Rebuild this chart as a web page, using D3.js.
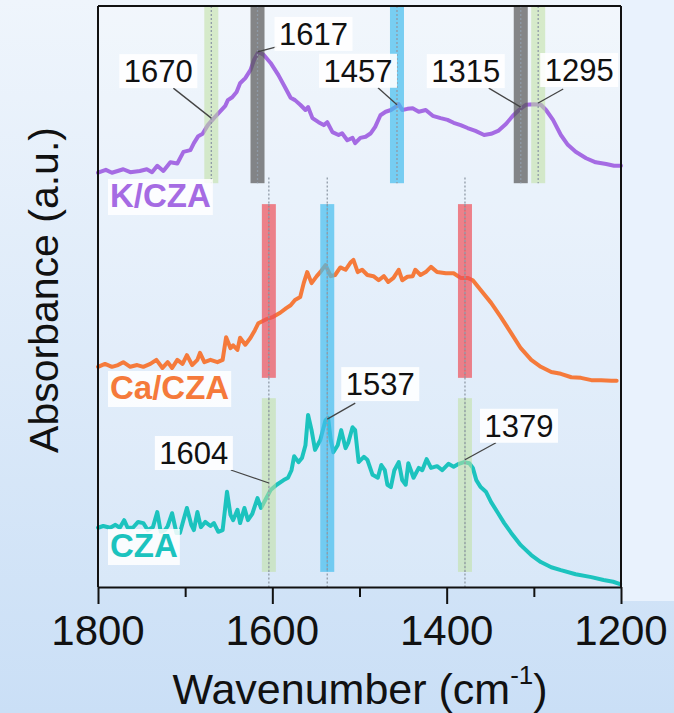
<!DOCTYPE html>
<html>
<head>
<meta charset="utf-8">
<script src="https://cdn.jsdelivr.net/npm/d3@7"></script>
<style>
  html, body { margin: 0; padding: 0; }
  body { width: 674px; height: 713px; overflow: hidden; }
  text { font-family: "Liberation Sans", Arial, Helvetica, sans-serif; }
</style>
</head>
<body>
<div id="chart"></div>
<script>
// ---- data ----
// K/CZA spectrum
const kWave = [1800,1791,1784,1771,1763,1752,1744,1738,1732,1725,1717,1709,1702,1694,1690,1685,1680,1674,1667,1654,1651,1646,1641,1637,1631,1625,1621,1616,1610,1602,1593,1585,1579,1574,1568,1562,1559,1554,1547,1541,1537,1531,1524,1520,1514,1508,1505,1499,1493,1487,1482,1476,1470,1464,1459,1455,1451,1445,1439,1432,1424,1416,1407,1399,1392,1384,1376,1367,1357,1349,1341,1332,1324,1317,1309,1300,1292,1286,1278,1269,1261,1252,1240,1229,1217,1208,1200];
const kAbs  = [71.3,71.8,71.3,71.9,71.4,71.6,71.9,71.4,72.5,71.6,73.1,72.9,74.9,75.2,76.4,77.6,78.0,79.5,80.7,82.8,83.8,84.3,85.2,86.7,87.6,89.0,90.7,92.1,91.6,90.2,88.1,85.9,84.2,83.8,83.0,82.1,82.6,80.7,80.0,79.5,80.0,78.3,77.8,78.1,76.9,77.3,76.4,77.3,77.5,78.1,79.2,81.2,81.8,82.1,82.6,83.1,82.1,82.3,82.4,81.8,82.1,81.1,80.7,80.4,79.9,79.5,79.0,78.5,77.8,78.0,78.5,79.7,81.1,82.1,83.0,83.1,83.0,82.1,80.4,77.8,76.1,74.9,73.8,73.1,72.8,72.5,72.5];

// Ca/CZA spectrum
const caWave = [1800,1792,1784,1777,1771,1763,1755,1748,1740,1733,1726,1720,1715,1709,1703,1698,1692,1686,1683,1678,1671,1663,1657,1653,1648,1645,1640,1637,1631,1625,1620,1616,1608,1599,1591,1584,1579,1574,1568,1564,1560,1555,1549,1545,1539,1533,1528,1522,1516,1510,1507,1502,1497,1491,1484,1478,1472,1467,1461,1455,1451,1445,1439,1436,1430,1424,1418,1411,1401,1392,1384,1376,1370,1361,1349,1338,1326,1315,1303,1292,1280,1269,1257,1246,1234,1223,1211,1205];
const caAbs  = [37.9,38.4,37.9,38.2,38.7,37.9,38.2,37.9,38.4,39.1,37.7,38.7,37.7,39.1,38.4,39.9,38.2,39.1,40.3,38.7,39.1,38.7,39.1,43.0,41.1,41.6,40.8,42.9,41.7,42.9,44.2,45.4,46.0,46.5,47.2,48.0,48.5,49.4,49.9,52.3,54.2,52.3,53.5,54.2,55.4,53.5,53.7,55.0,54.6,55.9,56.3,54.2,54.6,53.7,53.5,52.8,53.5,52.5,53.2,54.6,52.8,53.4,53.5,54.6,53.7,54.2,55.1,54.2,54.0,54.0,53.2,53.2,52.8,51.1,48.9,46.5,43.7,41.1,39.1,37.9,37.0,36.7,36.1,36.0,35.6,35.6,35.5,35.5];

// CZA spectrum
const czaWave = [1800,1794,1786,1780,1775,1770,1766,1760,1754,1748,1743,1737,1732,1728,1723,1720,1715,1710,1706,1702,1698,1693,1690,1686,1682,1677,1671,1667,1662,1657,1652,1648,1645,1640,1637,1632,1628,1623,1617,1613,1608,1602,1595,1587,1582,1578,1575,1570,1566,1562,1559,1555,1551,1545,1539,1536,1533,1530,1525,1521,1516,1513,1508,1505,1501,1495,1491,1485,1479,1475,1471,1468,1464,1460,1455,1451,1447,1444,1438,1432,1428,1423,1418,1411,1405,1398,1392,1386,1380,1374,1370,1366,1361,1355,1349,1341,1334,1326,1315,1303,1292,1280,1269,1252,1234,1220,1209,1201];
const czaAbs  = [10.2,10.5,10.2,10.7,10.2,11.5,10.2,10.2,11.2,11.0,9.8,10.3,12.9,9.5,9.8,10.5,12.7,9.3,9.3,11.5,13.6,10.7,9.8,12.9,10.3,11.2,10.5,11.0,9.5,9.8,16.4,12.4,11.5,13.3,11.0,13.6,11.5,12.6,15.3,13.6,15.0,16.7,17.6,18.4,18.8,20.1,22.5,21.5,22.2,24.4,29.6,27.0,23.6,25.3,28.7,29.1,25.3,23.2,24.4,27.0,23.9,24.8,27.5,27.0,21.5,22.4,21.9,19.3,18.8,21.0,20.1,17.6,17.2,20.1,21.5,18.4,17.6,21.3,18.8,20.5,20.1,22.0,20.5,20.8,20.1,21.2,20.7,21.2,21.5,21.3,20.5,18.4,17.2,16.4,14.6,12.7,11.0,9.3,7.2,5.5,4.3,3.4,2.9,2.2,1.7,1.2,0.9,0.5];

const seriesNames  = ["K/CZA", "Ca/CZA", "CZA"];
const seriesColors = ["#a56be3", "#f57a3b", "#1cc3be"];

// highlighted bands: position, kind, vertical extent (a.u.)
const bandWave = [1670, 1617, 1457, 1315, 1295, 1604, 1537, 1379, 1604, 1379];
const bandKind = ["green", "gray", "blue", "gray", "green", "red", "blue", "red", "green", "green"];
const bandTop  = [100, 100, 100, 100, 100, 65.9, 65.9, 65.9, 32.5, 32.5];
const bandBot  = [69.5, 69.5, 69.5, 69.5, 69.5, 36.0, 2.6, 36.0, 2.6, 2.6];
const guideWave = [1604, 1537, 1379];

// peak labels and the curve value they point at
const peakWave = [1670, 1617, 1457, 1315, 1295, 1537, 1604, 1379];
const peakAbs  = [80.7, 92.1, 83.0, 82.6, 83.3, 28.9, 17.9, 21.9];

const xTicks = [1800, 1700, 1600, 1500, 1400, 1300, 1200];
const xTickLabels = ["1800", "1600", "1400", "1200"];

// ---- layout ----
const W = 674, H = 713;
const margin = {top: 6, right: 53, bottom: 126, left: 98};
const width = W - margin.left - margin.right;
const height = H - margin.top - margin.bottom;

const svg = d3.select("#chart").append("svg")
    .attr("width", W)
    .attr("height", H);

const defs = svg.append("defs");
const grad = defs.append("linearGradient")
    .attr("id", "bg").attr("x1", 0).attr("y1", 0).attr("x2", 0).attr("y2", 1);
grad.append("stop").attr("offset", "0%").attr("stop-color", "#eff5fc");
grad.append("stop").attr("offset", "100%").attr("stop-color", "#cadff6");

svg.append("rect").attr("width", W).attr("height", H).attr("fill", "url(#bg)");
// lighter panel right of the frame
svg.append("rect")
    .attr("x", margin.left + width).attr("y", 0)
    .attr("width", W - margin.left - width).attr("height", margin.top + height + 14)
    .attr("fill", "#e9f2fd");

const g = svg.append("g").attr("transform", `translate(${margin.left},${margin.top})`);

g.append("rect").attr("width", width).attr("height", height)
    .attr("fill", "#ffffff").attr("opacity", 0.18);

const x = d3.scaleLinear().domain([1800, 1200]).range([0, width]);
const y = d3.scaleLinear().domain([0, 100]).range([height, 0]);

const bandFill = {green: "#bfe0a0", gray: "#555555", blue: "#45bdee", red: "#ee5058"};
const bandOpacity = {green: 0.55, gray: 0.7, blue: 0.7, red: 0.7};
const bandW = 14;

// spectra
const spectra = [
  kWave.map((w, i) => [w, kAbs[i]]),
  caWave.map((w, i) => [w, caAbs[i]]),
  czaWave.map((w, i) => [w, czaAbs[i]])
];
const line = d3.line().x(d => x(d[0])).y(d => y(d[1]));

g.selectAll(".spec")
    .data(spectra)
    .enter()
    .append("path")
    .attr("class", "spec")
    .attr("d", line)
    .attr("fill", "none")
    .attr("stroke", (d, i) => seriesColors[i])
    .attr("stroke-width", 4)
    .attr("stroke-linejoin", "round")
    .attr("stroke-linecap", "round");

// long dotted guides for the lower two spectra
g.selectAll(".guide")
    .data(guideWave)
    .enter()
    .append("line")
    .attr("x1", d => x(d)).attr("x2", d => x(d))
    .attr("y1", y(70.5)).attr("y2", height)
    .attr("stroke", "#8f9aa6")
    .attr("stroke-width", 1.3)
    .attr("stroke-dasharray", "2,2");

// bands drawn over the curves
const bands = bandWave.map((w, i) => ({w, kind: bandKind[i], top: bandTop[i], bot: bandBot[i]}));
g.selectAll(".band")
    .data(bands)
    .enter()
    .append("rect")
    .attr("x", d => x(d.w) - bandW / 2)
    .attr("y", d => y(d.top))
    .attr("width", bandW)
    .attr("height", d => y(d.bot) - y(d.top))
    .attr("fill", d => bandFill[d.kind])
    .attr("opacity", d => bandOpacity[d.kind]);

g.selectAll(".bandDot")
    .data(bands)
    .enter()
    .append("line")
    .attr("x1", d => x(d.w)).attr("x2", d => x(d.w))
    .attr("y1", d => y(d.top)).attr("y2", d => y(d.bot))
    .attr("stroke", "#8f9aa6")
    .attr("stroke-width", 1.3)
    .attr("stroke-dasharray", "2,2");

// frame and x axis
g.append("line").attr("x1", 0).attr("x2", width).attr("y1", 0).attr("y2", 0)
    .attr("stroke", "#111").attr("stroke-width", 2);
g.append("line").attr("x1", 0).attr("x2", 0).attr("y1", 0).attr("y2", height)
    .attr("stroke", "#111").attr("stroke-width", 2);
g.append("line").attr("x1", width).attr("x2", width).attr("y1", 0).attr("y2", height)
    .attr("stroke", "#111").attr("stroke-width", 2);

const xAxis = g.append("g")
    .attr("transform", `translate(0,${height})`)
    .call(d3.axisBottom(x).tickValues(xTicks).tickSize(0).tickFormat(""));
xAxis.select(".domain").attr("stroke", "#111").attr("stroke-width", 2);
xAxis.selectAll(".tick line")
    .attr("stroke", "#111").attr("stroke-width", 2)
    .attr("y2", d => (d % 200 === 0 ? 17 : 10));

g.selectAll(".xlab")
    .data(xTickLabels)
    .enter()
    .append("text")
    .attr("x", d => x(+d))
    .attr("y", height + 58)
    .attr("text-anchor", "middle")
    .attr("font-size", 42)
    .attr("fill", "#111")
    .text(d => d);

// axis titles
const xt = svg.append("text")
    .attr("x", 360).attr("y", 704)
    .attr("text-anchor", "middle")
    .attr("font-size", 43)
    .attr("fill", "#111");
xt.append("tspan").text("Wavenumber (cm");
xt.append("tspan").attr("font-size", 26).attr("dy", -20).text("-1");
xt.append("tspan").attr("dy", 20).text(")");

svg.append("text")
    .attr("transform", "translate(58,290) rotate(-90)")
    .attr("text-anchor", "middle")
    .attr("font-size", 41)
    .attr("fill", "#111")
    .text("Absorbance (a.u.)");

// series labels with white boxes
const seriesLabelPos = [[12, 207], [12, 399], [12, 557]];
seriesNames.forEach((name, i) => {
  const t = svg.append("text")
      .attr("x", seriesLabelPos[i][0] + margin.left)
      .attr("y", seriesLabelPos[i][1])
      .attr("font-size", 33)
      .attr("font-weight", "bold")
      .attr("fill", seriesColors[i])
      .text(name);
  const b = t.node().getBBox();
  svg.insert("rect", () => t.node())
      .attr("x", b.x - 2).attr("y", b.y + 2)
      .attr("width", b.width + 4).attr("height", b.height - 1)
      .attr("fill", "#ffffff").attr("opacity", 0.85);
});

// peak annotations: label centre and leader end as offsets from the target
const labelOff  = [[-53, -47], [56, -18], [-39, -34], [-55, -36], [41, -33], [53, -35], [-75, -30], [54, -34]];
const leaderOff = [[-38, -30], [19, -5], [-19, -17], [-32, -19], [25, -14], [28, -16], [-38, -13], [31, -17]];

const ann = g.append("g");
peakWave.forEach((w, i) => {
  const tx = x(w), ty = y(peakAbs[i]);
  const cx = tx + labelOff[i][0], cy = ty + labelOff[i][1];
  ann.append("line")
      .attr("x1", tx).attr("y1", ty)
      .attr("x2", tx + leaderOff[i][0]).attr("y2", ty + leaderOff[i][1])
      .attr("stroke", "#444").attr("stroke-width", 1.3);
  ann.append("rect")
      .attr("x", cx - 39).attr("y", cy - 17)
      .attr("width", 78).attr("height", 34)
      .attr("fill", "#ffffff").attr("opacity", 0.9);
  ann.append("text")
      .attr("x", cx).attr("y", cy + 11)
      .attr("text-anchor", "middle")
      .attr("font-size", 31)
      .attr("fill", "#111")
      .text(String(w));
});
</script>
</body>
</html>
